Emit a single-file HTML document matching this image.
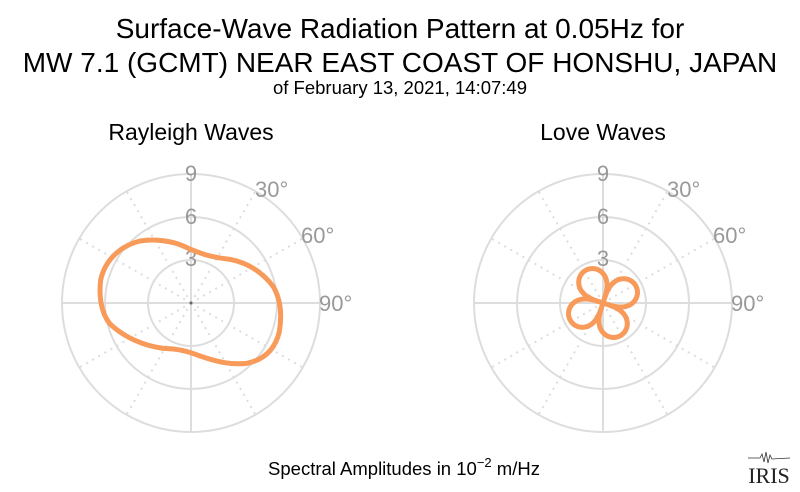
<!DOCTYPE html>
<html><head><meta charset="utf-8"><style>
html,body{margin:0;padding:0;background:#fff;}
svg{display:block;font-family:"Liberation Sans",sans-serif;}
</style></head><body>
<svg id="s" width="800" height="492" viewBox="0 0 800 492" xmlns="http://www.w3.org/2000/svg">
<text x="400" y="38" font-size="28" text-anchor="middle" fill="#000">Surface-Wave Radiation Pattern at 0.05Hz for</text>
<text x="400" y="72" font-size="28" text-anchor="middle" fill="#000">MW 7.1 (GCMT) NEAR EAST COAST OF HONSHU, JAPAN</text>
<text x="400" y="94" font-size="18.5" text-anchor="middle" fill="#000">of February 13, 2021, 14:07:49</text>
<text x="191" y="140" font-size="23" text-anchor="middle" fill="#000">Rayleigh Waves</text>
<text x="603" y="140" font-size="23" text-anchor="middle" fill="#000">Love Waves</text>
<g id="g1"></g><g id="g2"></g>
<path fill="none" stroke="#f79a5a" stroke-width="15" stroke-linejoin="round" transform="translate(50,160) scale(0.33333)"
 d="M422,268 C450,278 470,290 540,298 C600,310 640,340 670,380 C690,415 697,460 688,515 C675,570 640,600 590,610 C540,615 500,605 450,588 C410,572 380,566 340,565 C280,558 220,530 180,492 C150,455 147,400 152,360 C165,300 210,258 270,243 C320,235 370,245 400,258 C410,262 415,265 422,268 Z"/>
<path id="love" fill="none" stroke="#f79a5a" stroke-width="5" stroke-linejoin="round"/>
<text x="404" y="475" font-size="18.5" text-anchor="middle" fill="#000">Spectral Amplitudes in 10<tspan dy="-8" font-size="13">−2</tspan><tspan dy="8"> m/Hz</tspan></text>
<g transform="translate(748,452)">
<path d="M0,6 L12,6 L14,2 L16,10 L18,0 L20,11 L22,3 L24,7 L42,6" fill="none" stroke="#333" stroke-width="0.8"/>
<text x="21" y="31" font-size="22" font-family="Liberation Serif,serif" text-anchor="middle" fill="#222">IRIS</text>
</g>
</svg>
<script>
const NS="http://www.w3.org/2000/svg";
function el(p,t,a,txt){const e=document.createElementNS(NS,t);for(const k in a)e.setAttribute(k,a[k]);if(txt)e.textContent=txt;p.appendChild(e);return e;}
function grid(id,cx,cy){
 const g=document.getElementById(id);const R=129;
 [43,86,129].forEach(r=>el(g,"circle",{cx,cy,r,fill:"none",stroke:"#ddd","stroke-width":2}));
 for(let a=0;a<360;a+=30){const rad=a*Math.PI/180;const x=cx+R*Math.sin(rad),y=cy-R*Math.cos(rad);
  const solid=a%90==0;el(g,"line",{x1:cx,y1:cy,x2:x,y2:y,stroke:"#ddd","stroke-width":2,"stroke-dasharray":solid?"":"2,5"});}
 el(g,"circle",{cx,cy,r:1.5,fill:"#666"});
 const lab=(x,y,t,anc)=>el(g,"text",{x,y,"font-size":22,fill:"#999","text-anchor":anc||"middle"},t);
 lab(cx,cy-122,"9");lab(cx,cy-79,"6");lab(cx,cy-37,"3");
 lab(cx+64,cy-106,"30°","start");lab(cx+110,cy-60,"60°","start");lab(cx+128,cy+8,"90°","start");
}
grid("g1",191,303);grid("g2",603,303);
let d="";const cx=603,cy=303;
for(let i=0;i<=720;i++){const th=i/720*2*Math.PI;const phi=th+27*Math.PI/180;
 const r=35*Math.pow(Math.abs(Math.cos(2*phi)),0.45)+2;
 const x=cx+r*Math.sin(th),y=cy-r*Math.cos(th);d+=(i?"L":"M")+x.toFixed(2)+","+y.toFixed(2);}
document.getElementById("love").setAttribute("d",d+"Z");
</script>
</body></html>
